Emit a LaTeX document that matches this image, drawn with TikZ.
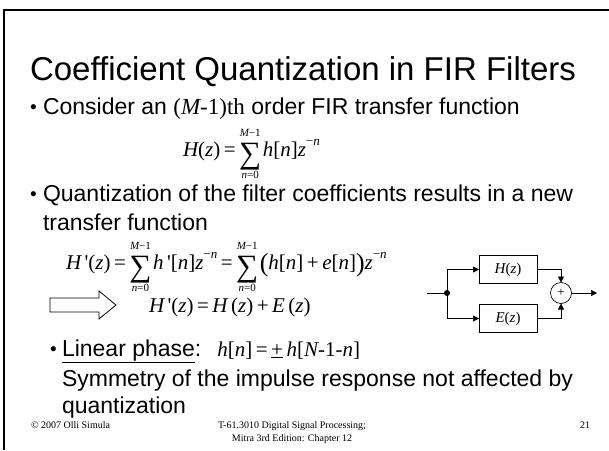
\documentclass[tikz,border=0pt]{standalone}
\usepackage{fontspec}
\setmainfont{Liberation Sans}
\newfontfamily\tms{Liberation Serif}
\usetikzlibrary{arrows.meta}
\newcommand\mI[1]{{\tms\itshape #1}}
\newcommand\mR[1]{{\tms #1}}
\newcommand\limtxt[1]{\hbox{\fontsize{11}{11}\selectfont #1}}
\newcommand\bsum{$\displaystyle\mathop{\raisebox{-7pt}{\fontsize{31}{31}\selectfont\tms ∑}}\limits^{\limtxt{\rule[-5pt]{0pt}{5pt}\mI{M}\mR{−1}}}_{\limtxt{\mI{n}\mR{=0}}}$\kern1.5pt}
\newcommand\zpow[1]{\raisebox{0.5em}{\fontsize{13}{13}\selectfont #1}}
\newcommand\bigpar[1]{\raisebox{-2pt}{\fontsize{26}{26}\selectfont\tms #1}}
\newcommand\bul{{\fontsize{19}{19}\selectfont •}}
\begin{document}
\begin{tikzpicture}[x=1pt,y=-1pt,
  every node/.style={inner sep=0pt,outer sep=0pt},
  body/.style={anchor=base west,font=\fontsize{23}{27}\selectfont},
  eqn/.style={anchor=base west,font=\fontsize{21}{25}\selectfont},
  foot/.style={anchor=base,font=\fontsize{10}{12}\selectfont\tms},
  blk/.style={draw,line width=0.7pt,minimum width=58pt,minimum height=28pt,font=\fontsize{15}{17}\selectfont},
  wire/.style={line width=0.7pt},
  arr/.style={wire,-{Triangle[length=6pt,width=6pt]}}]
\useasboundingbox (0,0) rectangle (609,450);
% frame
\draw[line width=2.4pt] (4,450) -- (4,10) -- (612,10);
% title
\node[anchor=base west,font=\fontsize{33}{36}\selectfont] (title) at (30,80) {Coefficient Quantization in FIR Filters};
% bullet 1
\node[anchor=base west] (d1) at (30,113) {\bul};
\node[body] (b1) at (43,114) {Consider an \mR{(}\mI{M}\mR{-1)th} order FIR transfer function};
% eq 1
\node[eqn] (eq1) at (183,156) {\mI{H}\mR{(}\mI{z}\mR{)\,=\,}\bsum\mI{h}\mR{[}\mI{n}\mR{]}\mI{z}\zpow{\mR{−}\mI{n}}};
% bullet 2
\node[anchor=base west] (d2) at (30,200) {\bul};
\node[body] (b2) at (43,201) {Quantization of the filter coefficients results in a new};
\node[body] (b2b) at (43,230) {transfer function};
% eq 2
\node[eqn] (eq2) at (66,269) {\mI{H}\mR{\,'(}\mI{z}\mR{)\,=\,}\bsum\mI{h}\mR{\,'[}\mI{n}\mR{]}\mI{z}\zpow{\mR{−}\mI{n}}\mR{\,=\,}\bsum\bigpar{(}\mI{h}\mR{[}\mI{n}\mR{]\,+\,}\mI{e}\mR{[}\mI{n}\mR{]}\bigpar{)}\mI{z}\zpow{\mR{−}\mI{n}}};
% block arrow
\draw[line width=0.8pt,fill=white] (50,298) -- (99,298) -- (99,291) -- (116,305) -- (99,319) -- (99,312) -- (50,312) -- cycle;
% eq 3
\node[eqn] (eq3) at (149,312) {\mI{H}\mR{\,'(}\mI{z}\mR{)\,=\,}\mI{H}\mR{\,(}\mI{z}\mR{)\,+\,}\mI{E}\mR{\,(}\mI{z}\mR{)}};
% block diagram
\coordinate (in) at (427,293);
\fill (447,293) circle (3pt) coordinate (dot);
\node[blk] (H) at (508,269.5) {\mI{H}\mR{(}\mI{z}\mR{)}};
\node[blk] (E) at (508,318.5) {\mI{E}\mR{(}\mI{z}\mR{)}};
\node[draw,circle,line width=0.7pt,minimum size=21pt,font=\fontsize{13}{13}\selectfont] (S) at (561,293) {\mR{+}};
\coordinate (out) at (597,293);
\draw[wire] (in) -- (dot);
\draw[arr] (dot) |- (H.west);
\draw[arr] (dot) |- (E.west);
\draw[arr] (H.east) -| (S.north);
\draw[arr] (E.east) -| (S.south);
\draw[arr] (S.east) -- (out);
% linear phase
\node[anchor=base west] (d3) at (50,355) {\bul};
\node[body] (lp) at (62,356) {\underline{Linear phase}:\hspace{16pt}{\fontsize{21}{25}\selectfont\mI{h}\mR{[}\mI{n}\mR{]\,=\,}\mR{\underline{+}}\,\mI{h}\mR{[}\mI{N}\mR{-1-}\mI{n}\mR{]}}};
\node[body] (sym) at (62,386) {Symmetry of the impulse response not affected by};
\node[body] (qz) at (62,413) {quantization};
% footer
\node[anchor=base west,font=\fontsize{10}{12}\selectfont\tms] (copy) at (31,428) {© 2007 Olli Simula};
\node[foot] (course) at (292,428) {T-61.3010 Digital Signal Processing;};
\node[foot] (ed) at (292,441) {Mitra 3rd Edition: Chapter 12};
\node[anchor=base east,font=\fontsize{10}{12}\selectfont\tms] (pg) at (590,428) {21};
\end{tikzpicture}
\end{document}
